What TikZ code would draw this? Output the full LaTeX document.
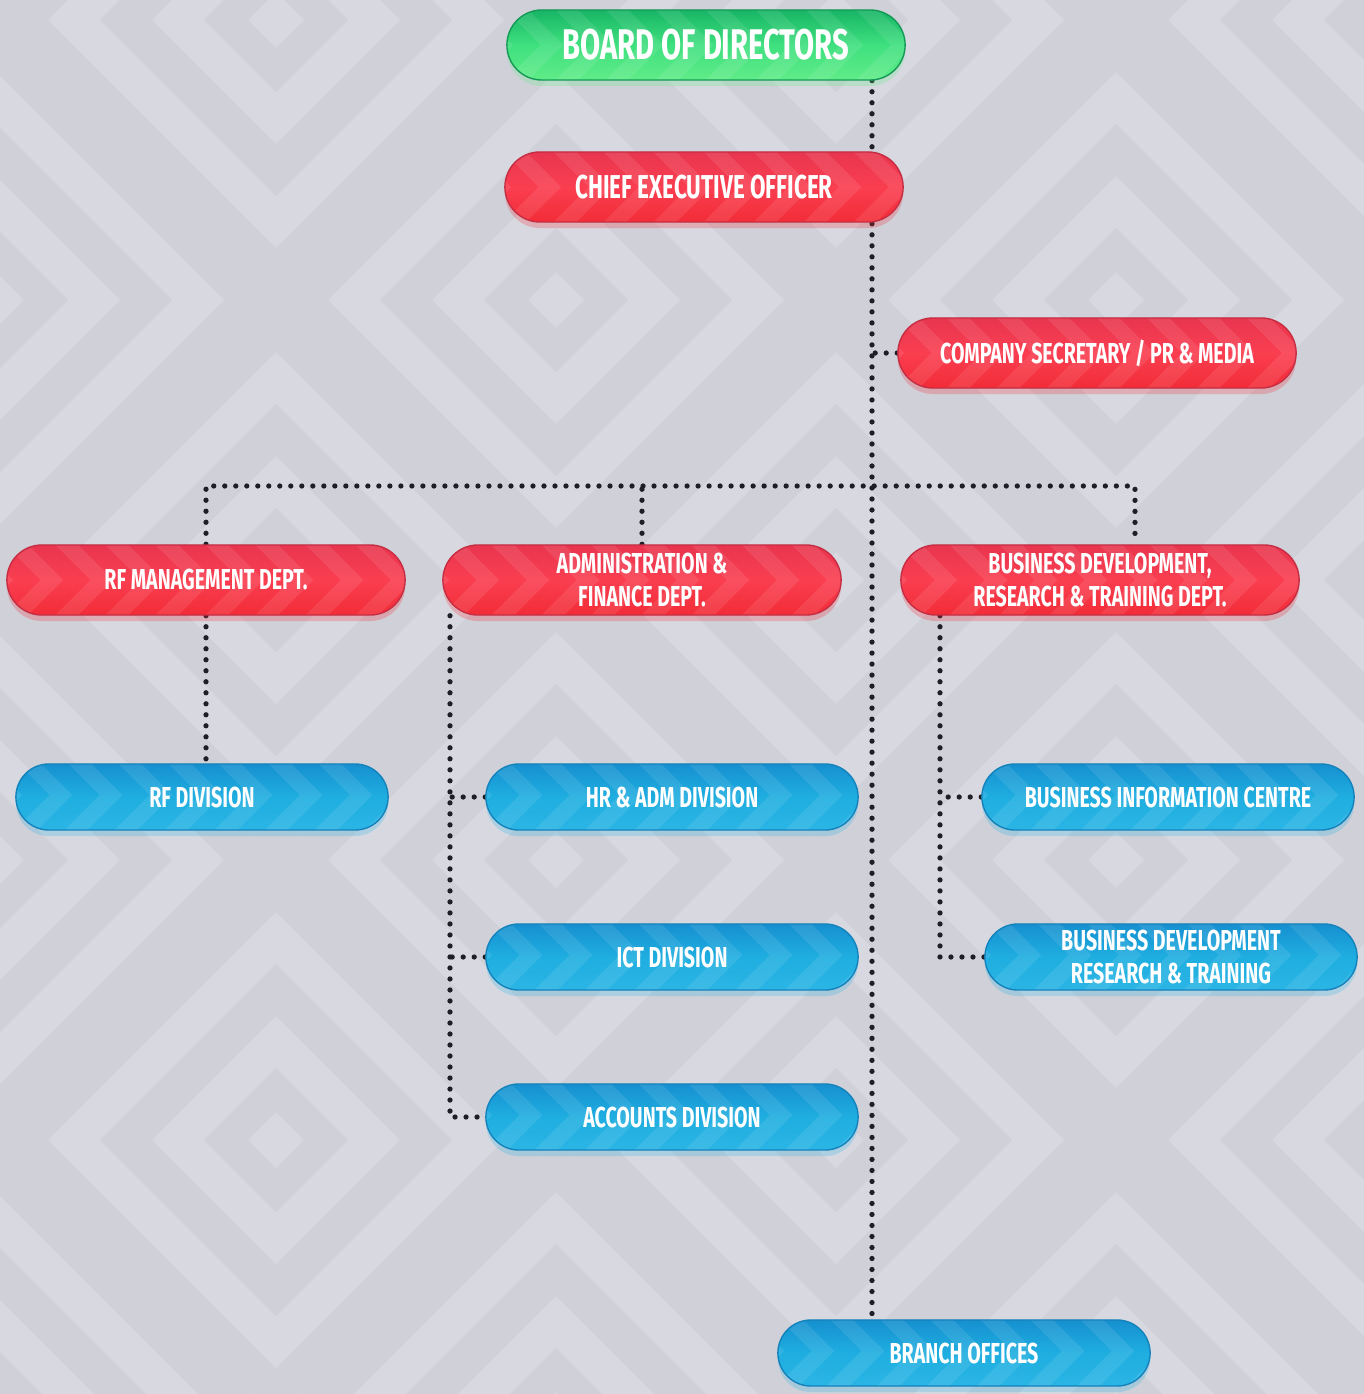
\documentclass[tikz,border=0pt]{standalone}
\usepackage{fontspec}
\usetikzlibrary{shadows}
\newfontfamily\pillfont{Fira Sans}[FakeStretch=0.68]
\definecolor{bglight}{HTML}{D8D9E0}
\definecolor{bgdark}{HTML}{CFD0D8}
\definecolor{dotc}{HTML}{1E1E24}
\definecolor{redtop}{HTML}{E8354F}
\definecolor{redmid}{HTML}{FA3E50}
\definecolor{redbot}{HTML}{F22C37}
\definecolor{grntop}{HTML}{17B565}
\definecolor{grnmid}{HTML}{3FE07F}
\definecolor{grnbot}{HTML}{60EC88}
\definecolor{blutop}{HTML}{1690D0}
\definecolor{blumid}{HTML}{1FAEE0}
\definecolor{blubot}{HTML}{2AB5E5}
\pgfdeclarelayer{bg}
\pgfdeclarelayer{lines}
\pgfsetlayers{bg,lines,main}
\tikzset{
  pill/.style={rounded corners=3.3mm, minimum width=3.72cm, minimum height=6.6mm,
    inner sep=0pt, text=white, align=center,
    font=\pillfont\bfseries\fontsize{8.2}{9.2}\selectfont,
    path picture={\foreach \k in {-1,...,9}{
      \draw[sharp corners, white, opacity=.09, line width=1.6mm]
        ([xshift=\k*5mm, yshift=-1mm]path picture bounding box.south west)
        -- ++(4.5mm,4.5mm) -- ++(-4.5mm,4.5mm);}}},
  redpill/.style={pill, minimum width=3.98cm, minimum height=7mm, rounded corners=3.5mm,
    top color=redtop, bottom color=redbot, middle color=redmid, draw=redtop!85!black,
    drop shadow={shadow xshift=0mm, shadow yshift=-.6mm, opacity=.25, fill=redbot}},
  greenpill/.style={pill, minimum width=3.98cm, minimum height=7mm, rounded corners=3.5mm,
    top color=grntop, bottom color=grnbot, middle color=grnmid, draw=grntop!85!black,
    drop shadow={shadow xshift=0mm, shadow yshift=-.6mm, opacity=.25, fill=grnbot}},
  bluepill/.style={pill,
    top color=blutop, bottom color=blubot, middle color=blumid, draw=blutop!90!black,
    drop shadow={shadow xshift=0mm, shadow yshift=-.6mm, opacity=.25, fill=blubot}},
  conn/.style={dotc, line width=1.5pt, line cap=round, dash pattern=on 0pt off 3.13pt},
}

\begin{document}
\begin{tikzpicture}[x=0.01cm, y=-0.01cm]
\useasboundingbox (0,0) rectangle (1364,1394);

% background pattern
\begin{pgfonlayer}{bg}
\clip (0,0) rectangle (1364,1394);
\fill[bglight] (0,0) rectangle (1364,1394);
\foreach \i in {-1,...,2}
  \foreach \j in {-1,...,2}
    \foreach \r/\c in {280/bgdark,228/bglight,176/bgdark,124/bglight,72/bgdark,28/bglight} {
      \fill[\c] ({276+560*\i+\r},{20+560*\j}) -- ++(-\r,\r) -- ++(-\r,-\r) -- ++(\r,-\r) -- cycle;
      \fill[\c] ({-4+560*\i+\r},{300+560*\j}) -- ++(-\r,\r) -- ++(-\r,-\r) -- ++(\r,-\r) -- cycle;
    }
\end{pgfonlayer}

\node[greenpill, font=\pillfont\bfseries\fontsize{12.2}{13}\selectfont] (board) at (706,45) {BOARD OF DIRECTORS};
\node[redpill, font=\pillfont\bfseries\fontsize{9.4}{10}\selectfont] (ceo) at (704,187) {CHIEF EXECUTIVE OFFICER};
\node[redpill] (cosec) at (1097,353) {COMPANY SECRETARY / PR \& MEDIA};

\node[redpill] (rfm) at (206,580) {RF MANAGEMENT DEPT.};
\node[redpill] (afd) at (642,580) {ADMINISTRATION \&\\FINANCE DEPT.};
\node[redpill] (bdd) at (1100,580) {BUSINESS DEVELOPMENT,\\RESEARCH \& TRAINING DEPT.};

\node[bluepill] (rfd) at (202,797) {RF DIVISION};
\node[bluepill] (hr) at (672,797) {HR \& ADM DIVISION};
\node[bluepill] (ict) at (672,957) {ICT DIVISION};
\node[bluepill] (acc) at (672,1117) {ACCOUNTS DIVISION};
\node[bluepill] (bic) at (1168,797) {BUSINESS INFORMATION CENTRE};
\node[bluepill] (bdrt) at (1171,957) {BUSINESS DEVELOPMENT\\RESEARCH \& TRAINING};
\node[bluepill] (branch) at (964,1353) {BRANCH OFFICES};

\coordinate (trunk) at (872,0);
\coordinate (bus) at (1135,486);
\coordinate (afdline) at (450,0);
\coordinate (bddline) at (940,0);

% dotted connectors
\begin{pgfonlayer}{lines}
\draw[conn] (board.south -| trunk) -- (branch.north -| trunk);
\draw[conn] (cosec.west) -- (cosec.west -| trunk);
\draw[conn] (rfm.north) |- (bus) -- (bus |- bdd.north);
\draw[conn] (afd.north) -- (afd.north |- bus);
\draw[conn] (rfm.south) -- (rfm.south |- rfd.north);
\draw[conn] (afd.south -| afdline) |- (acc.west);
\draw[conn] (hr.west) -- (hr.west -| afdline);
\draw[conn] (ict.west) -- (ict.west -| afdline);
\draw[conn] (bdd.south -| bddline) |- (bdrt.west);
\draw[conn] (bic.west) -- (bic.west -| bddline);
\end{pgfonlayer}
\end{tikzpicture}
\end{document}
